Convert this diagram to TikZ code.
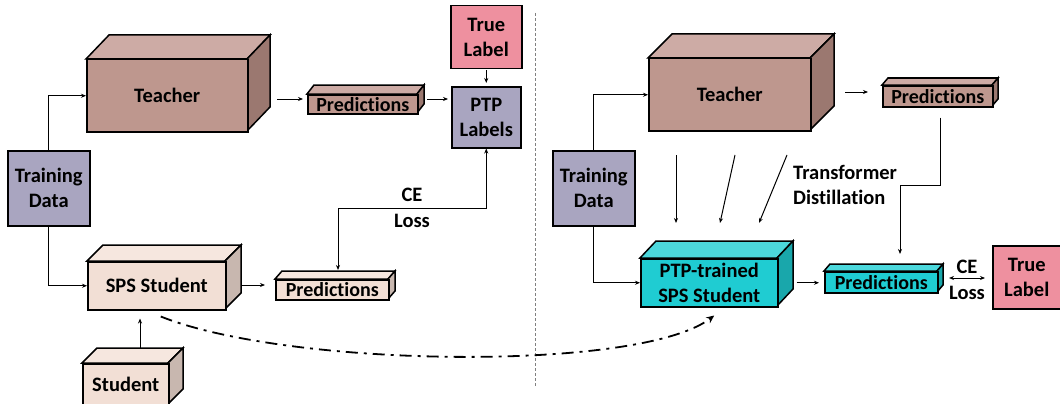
\documentclass[tikz,border=0pt]{standalone}
\usepackage{fontspec}
\setmainfont{Carlito}[RawFeature={-liga,-clig,-calt}]
\usetikzlibrary{arrows.meta,calc}
\definecolor{teaF}{HTML}{BE978E}
\definecolor{teaT}{HTML}{CDABA5}
\definecolor{teaS}{HTML}{9B7870}
\definecolor{stuF}{HTML}{F2DFD5}
\definecolor{stuT}{HTML}{F6E7DF}
\definecolor{stuS}{HTML}{C8B7AF}
\definecolor{cyaF}{HTML}{1FCCD2}
\definecolor{cyaT}{HTML}{4CD8DC}
\definecolor{cyaS}{HTML}{19A7AB}
\definecolor{lavender}{HTML}{A9A5C0}
\definecolor{pinkbox}{HTML}{EE909F}
\newcommand\predtxt{{\fontsize{20}{24}\selectfont Predictions}}
\tikzset{
  boxline/.style={draw=black, line width=1.5pt, line join=miter},
  lbl/.style={font=\fontsize{20.5}{25}\selectfont\bfseries, align=center, inner sep=0pt},
  flatbox/.style={boxline, lbl, anchor=north west},
  arr/.style={line width=1pt, -{Stealth[length=5pt,width=4pt]}},
  darr/.style={line width=1pt, {Stealth[length=5pt,width=4pt]}-{Stealth[length=5pt,width=4pt]}},
  dashdotarr/.style={line width=1.8pt, dash pattern=on 12pt off 6pt on 3pt off 6pt, -{Stealth[length=8pt,width=7pt]}},
  sep/.style={draw=gray, line width=1pt, dash pattern=on 3pt off 2pt},
}
% name, x1, y1, x2, y2, dx, dy, colour prefix, text
\newcommand\cuboid[9]{%
  \filldraw[boxline, fill=#8T] (#2,#3) -- (#2+#6,#3-#7) -- (#4+#6,#3-#7) -- (#4,#3) -- cycle;
  \filldraw[boxline, fill=#8S] (#4,#3) -- (#4+#6,#3-#7) -- (#4+#6,#5-#7) -- (#4,#5) -- cycle;
  \node[flatbox, fill=#8F, minimum width={#4-#2}, minimum height={#5-#3}] (#1) at (#2,#3) {#9};
  \coordinate (#1-w) at (#2, {(#3-#7+#5)/2});
  \coordinate (#1-e) at (#4+#6, {(#3-#7+#5)/2});
  \coordinate (#1-n) at ({(#2+#4)/2+#6}, #3-#7);
}
\begin{document}
\begin{tikzpicture}[x=1pt,y=-1pt]
\useasboundingbox (0,0) rectangle (1060,404);

% ---------------- left panel ----------------
\node[flatbox, fill=pinkbox, minimum width=71, minimum height=63] (tl1) at (450,5) {True\\Label};
\node[flatbox, fill=lavender, minimum width=69, minimum height=61] (ptp) at (451,86) {PTP\\Labels};
\node[flatbox, fill=lavender, minimum width=82, minimum height=75] (td1) at (7,150) {Training\\Data};
\cuboid{teach1}{86}{59}{247}{131}{23}{24}{tea}{Teacher}
\cuboid{pred1}{307}{94}{417}{113}{7}{9}{tea}{\predtxt}
\cuboid{sps1}{87}{261}{225}{309}{16}{16}{stu}{SPS Student}
\cuboid{pred2}{275}{279}{388}{299}{7}{8}{stu}{\predtxt}
\cuboid{stud}{82}{363}{168}{404}{15}{15}{stu}{Student}

\draw[arr] (td1.north) |- (teach1.west);
\draw[arr] (td1.south) |- (sps1.west);
\draw[arr, shorten <=7pt, shorten >=4pt] (teach1-e |- pred1-w) -- (pred1-w);
\draw[arr, shorten <=3pt, shorten >=3pt] (pred1-e) -- (ptp.west |- pred1-e);
\draw[arr, shorten <=1pt, shorten >=3pt] (tl1.south) -- (ptp.north);
\draw[arr, shorten <=1pt, shorten >=10pt] (sps1-e |- pred2-w) -- (pred2-w);
\draw[arr, shorten >=8pt] (stud-n) -- (stud-n |- sps1.south);
\coordinate (ce1) at (338,208);
\draw[darr, shorten >=1pt] (ptp.south) |- (ce1) -- (ce1 |- pred2-n);
\node[lbl, font=\fontsize{20.5}{26}\selectfont\bfseries] (celbl1) at (412,208) {CE\\Loss};

% separator
\coordinate (septop) at (535,13);
\coordinate (sepbot) at (535,386);
\draw[sep] (septop) -- (sepbot);

% ---------------- right panel ----------------
\node[flatbox, fill=lavender, minimum width=82, minimum height=75] (td2) at (552,150) {Training\\Data};
\node[flatbox, fill=pinkbox, minimum width=68, minimum height=63] (tl2) at (992,245) {True\\Label};
\cuboid{teach2}{648}{58}{810}{130}{24}{24}{tea}{Teacher}
\cuboid{pred3}{882}{85}{992}{106}{6}{7}{tea}{\predtxt}
\cuboid{sps2}{640}{258}{777}{306}{16}{17}{cya}{PTP-trained\\SPS Student}
\cuboid{pred4}{824}{271}{937}{292}{6}{7}{cya}{\predtxt}

\draw[arr] (td2.north) |- (teach2.west);
\draw[arr] (td2.south) |- (sps2.west);
\draw[arr, shorten <=11pt, shorten >=14pt] (teach2-e |- pred3-w) -- (pred3-w);
\coordinate (pr3a) at (940,185);
\coordinate (pr3b) at (900,185);
\draw[arr, shorten <=10pt, shorten >=10pt] (pred3.south -| pr3a) -- (pr3a) -- (pr3b) -- (pr3b |- pred4-n);
\draw[arr, shorten <=18pt, shorten >=5pt] (sps2.east) -- (pred4.west |- sps2.east);
\draw[darr, shorten <=6pt, shorten >=7pt] (pred4-e) -- (tl2.west |- pred4-e);
\node[lbl, font=\fontsize{20.5}{26}\selectfont\bfseries] (celbl2) at (967,280) {CE\\Loss};

\coordinate (d1s) at (676,155); \coordinate (d1e) at (676,223);
\coordinate (d2s) at (735,155); \coordinate (d2e) at (720,223);
\coordinate (d3s) at (787,155); \coordinate (d3e) at (759,223);
\draw[arr] (d1s) -- (d1e);
\draw[arr] (d2s) -- (d2e);
\draw[arr] (d3s) -- (d3e);
\node[lbl, align=left, anchor=west] (tdlbl) at (793,185) {Transformer\\Distillation};

% dash-dot transfer arrow
\draw[dashdotarr] ($(sps1.south)+(4,6)$) .. controls (290,368) and (640,372) .. ($(sps2.south)+(5,8)$);
\end{tikzpicture}
\end{document}
